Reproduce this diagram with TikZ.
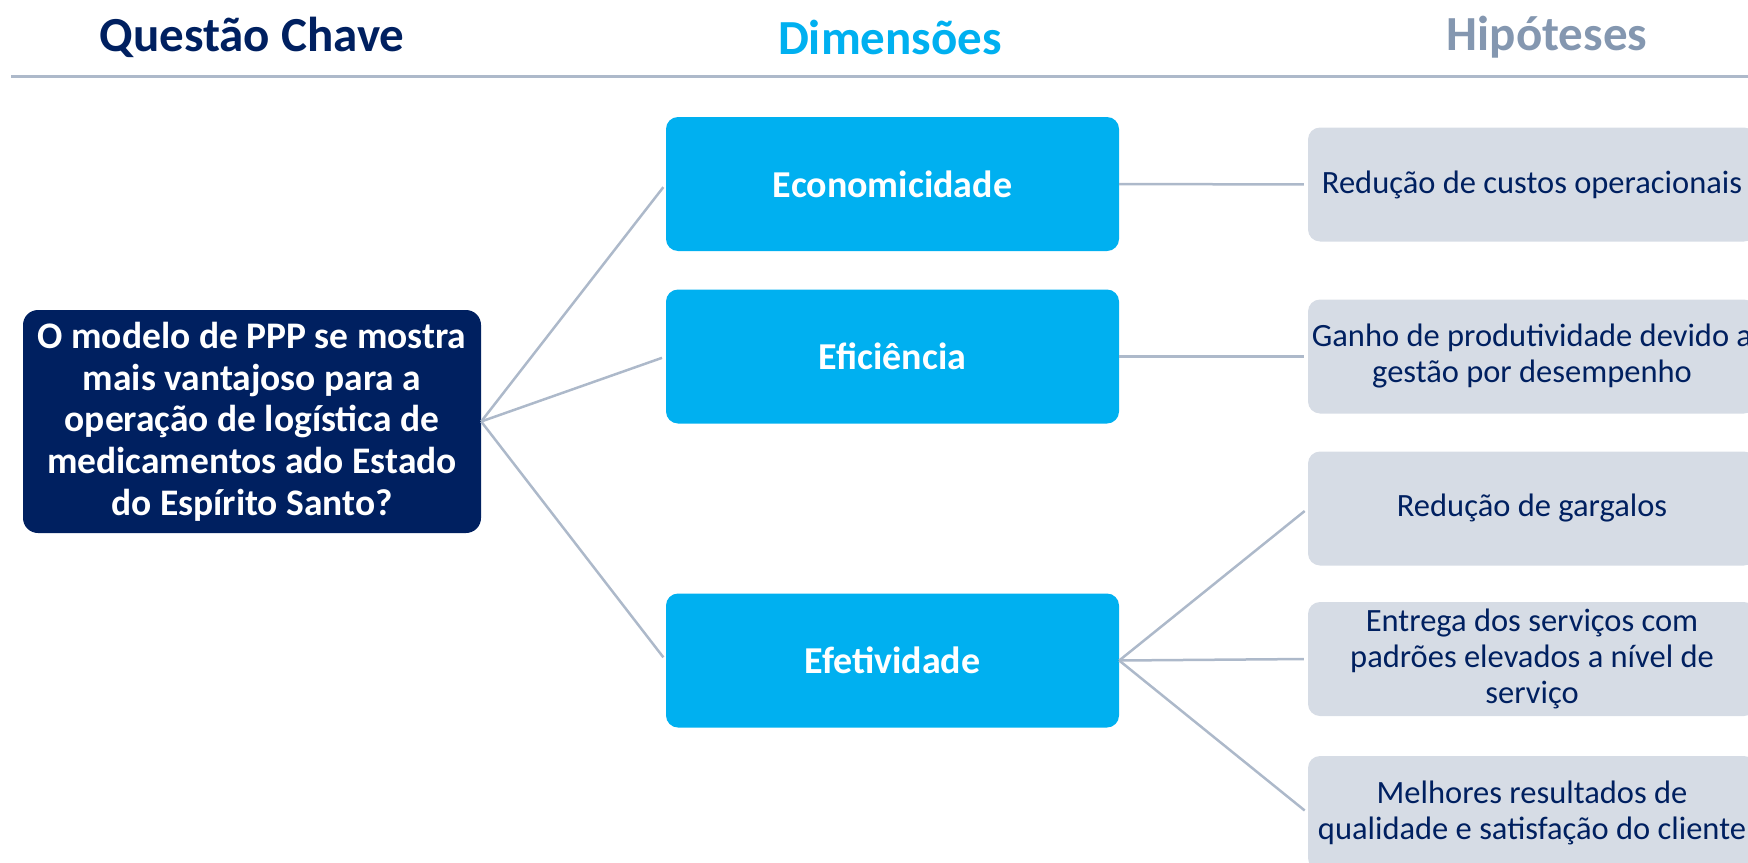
\documentclass[tikz,border=0pt]{standalone}
\usepackage{fontspec}
\setmainfont{Carlito}
\usetikzlibrary{positioning}

\definecolor{navy}{HTML}{002060}
\definecolor{skyblue}{HTML}{00B0F0}
\definecolor{slateblue}{HTML}{8497B0}
\definecolor{hypfill}{HTML}{D6DCE5}
\definecolor{linkgrey}{HTML}{ADB9CA}

\tikzset{
  header/.style={font=\fontsize{49}{58}\selectfont\bfseries},
  question/.style={fill=navy, text=white, rounded corners=15pt,
    minimum width=458pt, minimum height=223pt, align=center, inner sep=0pt,
    font=\fontsize{37.5}{41.7}\selectfont\bfseries},
  dimension/.style={fill=skyblue, text=white, rounded corners=12pt,
    minimum width=453pt, minimum height=134pt,
    font=\fontsize{38}{45}\selectfont\bfseries},
  hypothesis/.style={fill=hypfill, text=navy, rounded corners=12pt,
    minimum width=448pt, minimum height=114pt, align=center, inner sep=0pt,
    font=\fontsize{32.5}{36}\selectfont},
  link/.style={draw=linkgrey, line width=2.5pt}
}

\begin{document}
\begin{tikzpicture}[x=1pt, y=-1pt]
      \useasboundingbox (0,0) rectangle (1748,862);
      % headers
      \node[header, text=navy] (hq) at (252,37) {Questão Chave};
      \node[header, text=skyblue] (hd) at (890,37) {Dimensões};
      \node[header, text=slateblue] (hh) at (1547,37) {Hipóteses};
      \draw[linkgrey, line width=3pt] (11,76) -- (1748,76);
      % boxes
      \node[question] (q) at (252,421.5)
        {O modelo de PPP se mostra\\mais vantajoso para a\\operação de logística de\\medicamentos ado Estado\\do Espírito Santo?};
      \node[dimension] (d1) at (892.5,184) {Economicidade};
      \node[dimension] (d2) at (892.5,356.5) {Eficiência};
      \node[dimension] (d3) at (892.5,660.5) {Efetividade};
      \node[hypothesis] (h1) at (1532,184.5) {Redução de custos operacionais};
      \node[hypothesis] (h2) at (1532,356.5) {Ganho de produtividade devido a\\gestão por desempenho};
      \node[hypothesis] (h3) at (1532,508.5) {Redução de gargalos};
      \node[hypothesis] (h4) at (1532,659) {Entrega dos serviços com\\padrões elevados a nível de\\serviço};
      \node[hypothesis] (h5) at (1532,813) {Melhores resultados de\\qualidade e satisfação do cliente};
      \begin{scope}[link, shorten >=4pt]
        \draw (q.east) to (d1.west);
        \draw (q.east) to (d2.west);
        \draw (q.east) to (d3.west);
        \draw (d1.east) to (h1.west);
        \draw (d2.east) to (h2.west);
        \draw (d3.east) to (h3.west);
        \draw (d3.east) to (h4.west);
        \draw (d3.east) to (h5.west);
      \end{scope}
    \end{tikzpicture}
\end{document}
